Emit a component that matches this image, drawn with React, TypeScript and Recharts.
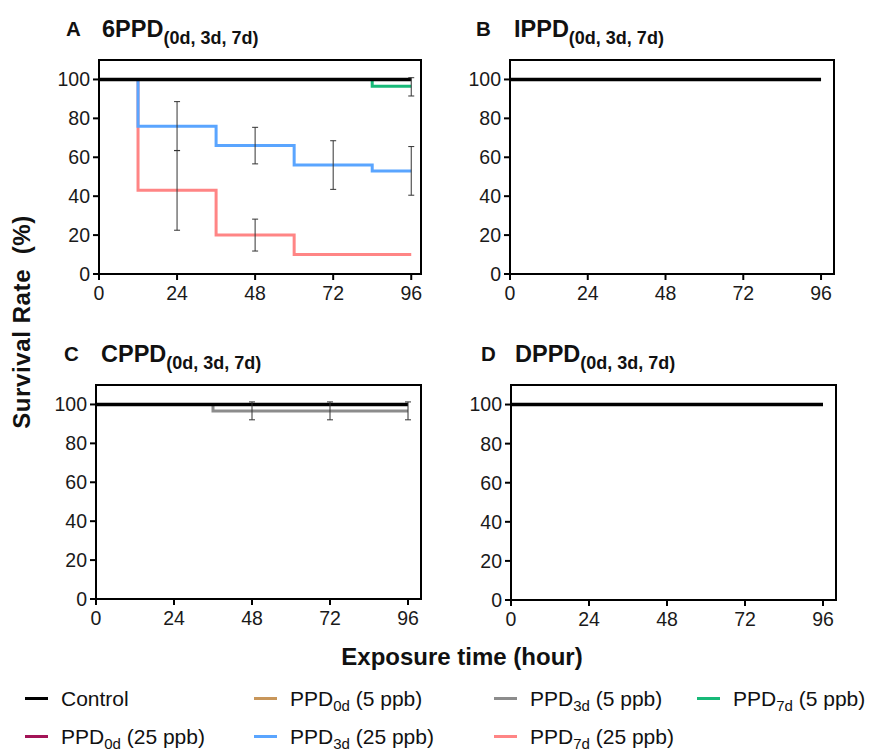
import React from "react";
import { LineChart, Line, XAxis, YAxis, ReferenceArea, ErrorBar } from "recharts";

// axis ticks
const hours = [0, 24, 48, 72, 96];
const pctTicks = [0, 20, 40, 60, 80, 100];

// control (all panels)
const ctrlX = [0, 96];
const ctrlY = [100, 100];

// 6PPD panel
const p3d25X = [0, 12, 36, 60, 84, 96];
const p3d25Y = [100, 76, 66, 56, 53, 53];
const p7d25X = [0, 12, 36, 60, 96];
const p7d25Y = [100, 43, 20, 10, 10];
const p7d5X = [0, 84, 96];
const p7d5Y = [100, 96.5, 96.5];

const errA_X = [24, 48, 72, 96, 24, 48, 96];
const errA_Y = [76, 66, 56, 53, 43, 20, 96.2];
const errA_E = [12.6, 9.4, 12.5, 12.5, 20.5, 8.2, 4.7];

// CPPD panel
const p3d5X = [0, 36, 96];
const p3d5Y = [100, 96.7, 96.7];
const errC_X = [48, 72, 96];
const errC_Y = [96.7, 96.7, 96.7];
const errC_E = [4.6, 4.6, 4.6];

const colors = {
  control: "#000000",
  p0d5: "#c8965a",
  p3d5: "#8c8c8c",
  p7d5: "#17b978",
  p0d25: "#a31457",
  p3d25: "#5aa5ff",
  p7d25: "#ff8585",
};

const toPts = (xs: number[], ys: number[], es?: number[]) =>
  xs.map((x, i) => ({ x, y: ys[i], err: es ? es[i] : 0 }));

const FONT = '"Liberation Sans", Arial, sans-serif';

type Series = { pts: any[]; color: string; w: number };

function Panel({ left, top, w, h, xMax, lines, bars }: {
  left: number; top: number; w: number; h: number; xMax: number;
  lines: Series[]; bars: any[][];
}) {
  return (
    <div style={{ position: "absolute", left: left - 60, top: top - 10 }}>
      <LineChart width={w + 70} height={h + 50} margin={{ top: 10, right: 10, bottom: 0, left: 0 }}>
        <XAxis
          type="number"
          dataKey="x"
          domain={[0, xMax]}
          ticks={hours}
          allowDataOverflow
          height={40}
          tickSize={6}
          tickMargin={6}
          axisLine={{ stroke: "#000", strokeWidth: 2 }}
          tickLine={{ stroke: "#000", strokeWidth: 2 }}
          tick={{ fill: "#1a1a1a", fontSize: 19.5, fontFamily: FONT }}
        />
        <YAxis
          type="number"
          domain={[0, 110]}
          ticks={pctTicks}
          allowDataOverflow
          width={60}
          tickSize={6}
          tickMargin={3}
          axisLine={{ stroke: "#000", strokeWidth: 2 }}
          tickLine={{ stroke: "#000", strokeWidth: 2 }}
          tick={{ fill: "#1a1a1a", fontSize: 19.5, fontFamily: FONT }}
        />
        <ReferenceArea x1={0} x2={xMax} y1={0} y2={110} fill="none" stroke="#000" strokeWidth={2} ifOverflow="visible" />
        {lines.map((s, i) => (
          <Line
            key={"l" + i}
            data={s.pts}
            dataKey="y"
            type="stepAfter"
            stroke={s.color}
            strokeWidth={s.w}
            dot={false}
            isAnimationActive={false}
          />
        ))}
        {bars.map((b, i) => (
          <Line key={"e" + i} data={b} dataKey="y" stroke="none" dot={false} isAnimationActive={false} legendType="none">
            <ErrorBar dataKey="err" width={3} stroke="#333" strokeWidth={1} isAnimationActive={false} />
          </Line>
        ))}
      </LineChart>
    </div>
  );
}

function Title({ left, top, letter, name, letterDx }: { left: number; top: number; letter: string; name: string; letterDx: number }) {
  return (
    <>
      <div style={{ position: "absolute", left: left, top: top + 1, fontSize: 20.5, fontWeight: 700, lineHeight: 1 }}>{letter}</div>
      <div style={{ position: "absolute", left: left + letterDx, top, fontSize: 23.5, fontWeight: 700, lineHeight: 1, whiteSpace: "nowrap" }}>
        {name}
        <span style={{ fontSize: 18, position: "relative", top: 7 }}>(0d, 3d, 7d)</span>
      </div>
    </>
  );
}

const legendItems = [
  { color: colors.control, label: "Control", sub: "", tail: "", x: 25, y: 698 },
  { color: colors.p0d5, label: "PPD", sub: "0d", tail: " (5 ppb)", x: 254, y: 698 },
  { color: colors.p3d5, label: "PPD", sub: "3d", tail: " (5 ppb)", x: 494, y: 698 },
  { color: colors.p7d5, label: "PPD", sub: "7d", tail: " (5 ppb)", x: 697, y: 698 },
  { color: colors.p0d25, label: "PPD", sub: "0d", tail: " (25 ppb)", x: 25, y: 736 },
  { color: colors.p3d25, label: "PPD", sub: "3d", tail: " (25 ppb)", x: 254, y: 736 },
  { color: colors.p7d25, label: "PPD", sub: "7d", tail: " (25 ppb)", x: 494, y: 736 },
];

export default function App() {
  const ctrl = { pts: toPts(ctrlX, ctrlY), color: colors.control, w: 3.5 };
  return (
    <div style={{ position: "absolute", left: 0, top: 0, width: 870, height: 750, background: "#fff", fontFamily: FONT, color: "#111" }}>
      <Title left={66} top={18} letter="A" name="6PPD" letterDx={36} />
      <Title left={476} top={18} letter="B" name="IPPD" letterDx={38} />
      <Title left={64} top={343} letter="C" name="CPPD" letterDx={37} />
      <Title left={481} top={343} letter="D" name="DPPD" letterDx={34} />

      <Panel
        left={99} top={60} w={322} h={214} xMax={99}
        lines={[
          { pts: toPts(p7d25X, p7d25Y), color: colors.p7d25, w: 3 },
          { pts: toPts(p3d25X, p3d25Y), color: colors.p3d25, w: 3 },
          { pts: toPts(p7d5X, p7d5Y), color: colors.p7d5, w: 3 },
          ctrl,
        ]}
        bars={[toPts(errA_X, errA_Y, errA_E)]}
      />
      <Panel left={510} top={60} w={324} h={214} xMax={100} lines={[ctrl]} bars={[]} />
      <Panel
        left={96} top={385} w={325} h={214} xMax={100}
        lines={[{ pts: toPts(p3d5X, p3d5Y), color: colors.p3d5, w: 3 }, ctrl]}
        bars={[toPts(errC_X, errC_Y, errC_E)]}
      />
      <Panel left={511} top={385} w={325} h={215} xMax={100} lines={[ctrl]} bars={[]} />

      <div style={{ position: "absolute", left: 22 - 150, top: 322 - 12, width: 300, textAlign: "center", fontSize: 24, letterSpacing: 0.6, fontWeight: 700, lineHeight: "24px", whiteSpace: "pre", transform: "rotate(-90deg)" }}>
        {"Survival Rate  (%)"}
      </div>
      <div style={{ position: "absolute", left: 262, top: 645, width: 400, textAlign: "center", fontSize: 24, fontWeight: 700, lineHeight: 1 }}>
        Exposure time (hour)
      </div>

      {legendItems.map((it, i) => (
        <div key={i} style={{ position: "absolute", left: it.x, top: it.y - 12, height: 24, display: "flex", alignItems: "center", whiteSpace: "pre", fontSize: 21, lineHeight: 1 }}>
          <div style={{ width: 23, height: 3, background: it.color, marginRight: 13 }} />
          <span>
            {it.label}
            {it.sub && <span style={{ fontSize: 15, position: "relative", top: 5 }}>{it.sub}</span>}
            {it.tail}
          </span>
        </div>
      ))}
    </div>
  );
}
